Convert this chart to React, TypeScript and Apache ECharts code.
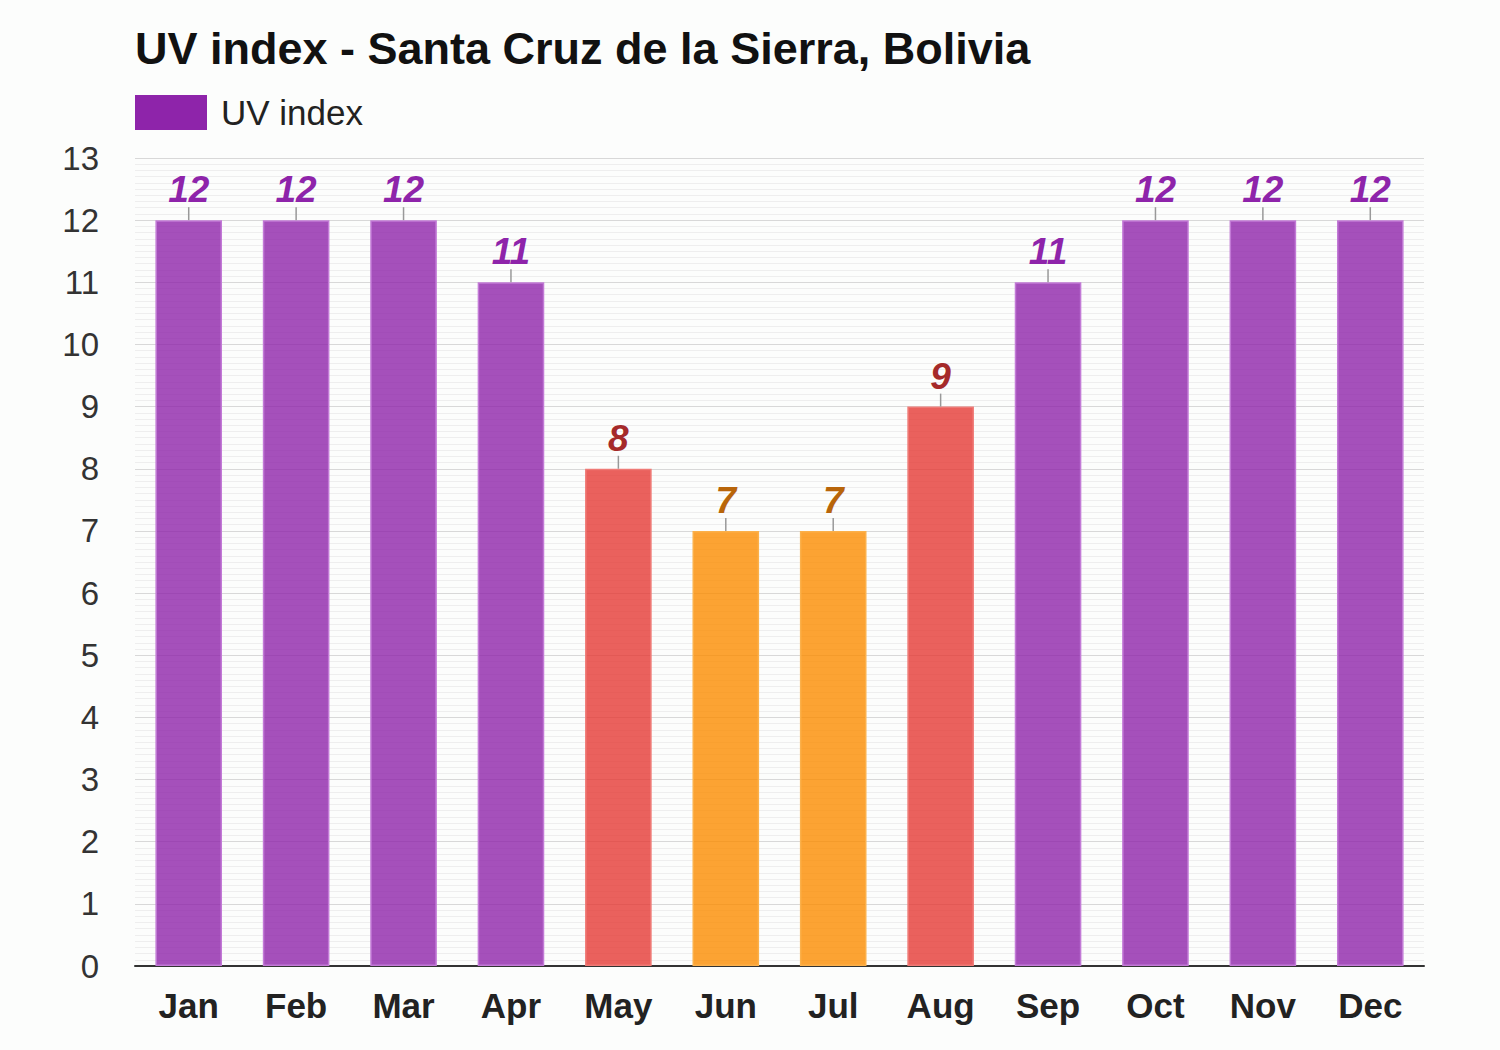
import React, { useEffect, useRef } from "react";
import * as echarts from "echarts";

const months = ["Jan", "Feb", "Mar", "Apr", "May", "Jun", "Jul", "Aug", "Sep", "Oct", "Nov", "Dec"];
const uvIndex = [12, 12, 12, 11, 8, 7, 7, 9, 11, 12, 12, 12];
const yTicks = [0, 1, 2, 3, 4, 5, 6, 7, 8, 9, 10, 11, 12, 13];

const FONT = "'Liberation Sans', Arial, Helvetica, sans-serif";

function barColor(v: number) {
  if (v >= 11) return { fill: "rgba(142,36,170,0.8)", border: "#c27ad6", text: "#8e24aa" };
  if (v >= 8) return { fill: "rgba(229,57,53,0.8)", border: "#ef7a76", text: "#a52a2a" };
  return { fill: "rgba(251,140,0,0.8)", border: "#fbb04a", text: "#b8650a" };
}

export default function App() {
  const ref = useRef<HTMLDivElement>(null);
  useEffect(() => {
    if (!ref.current) return;
    const chart = echarts.init(ref.current, null, { renderer: "svg" });
    chart.setOption({
      animation: false,
      backgroundColor: "#fcfdfc",
      title: {
        text: "UV index - Santa Cruz de la Sierra, Bolivia",
        left: 130,
        top: 21,
        textStyle: { fontFamily: FONT, fontSize: 45, fontWeight: "bold", color: "#111" },
      },
      legend: {
        left: 130,
        top: 90,
        icon: "rect",
        itemWidth: 72,
        itemHeight: 35,
        itemGap: 10,
        data: [{ name: "UV index", itemStyle: { color: "#8e24aa" } }],
        textStyle: { fontFamily: FONT, fontSize: 35, color: "#222", padding: [0, 0, 0, 9] },
        selectedMode: false,
      },
      grid: { left: 135, right: 76, top: 158, bottom: 84, containLabel: false },
      xAxis: {
        type: "category",
        data: months,
        axisLine: { lineStyle: { color: "#333", width: 2 } },
        axisTick: { show: false },
        axisLabel: { fontFamily: FONT, fontSize: 35, fontWeight: "bold", color: "#222", margin: 22 },
        splitLine: { show: false },
      },
      yAxis: {
        type: "value",
        min: yTicks[0],
        max: yTicks[yTicks.length - 1],
        interval: 1,
        axisLine: { show: false },
        axisTick: { show: false },
        axisLabel: { fontFamily: FONT, fontSize: 33, color: "#333", margin: 36 },
        splitLine: { lineStyle: { color: "#d8d8d8", width: 1 } },
        minorTick: { show: false, splitNumber: 10 },
        minorSplitLine: { show: true, lineStyle: { color: "#eeeeee", width: 1 } },
      },
      series: [
        {
          name: "UV index",
          type: "bar",
          barWidth: "62%",
          data: uvIndex.map((v) => {
            const c = barColor(v);
            return { value: v, itemStyle: { color: c.fill, borderColor: c.border, borderWidth: 1.5 } };
          }),
          z: 2,
        },
        {
          name: "labels",
          type: "custom",
          data: uvIndex.map((v, i) => [i, v]),
          z: 3,
          silent: true,
          renderItem: (params: any, api: any) => {
            const i = api.value(0);
            const v = api.value(1);
            const p = api.coord([i, v]);
            const c = barColor(v);
            return {
              type: "group",
              children: [
                {
                  type: "line",
                  shape: { x1: p[0], y1: p[1] - 13, x2: p[0], y2: p[1] },
                  style: { stroke: "#999", lineWidth: 1.5 },
                },
                {
                  type: "text",
                  x: p[0],
                  y: p[1] - 12,
                  style: {
                    text: String(v),
                    textAlign: "center",
                    textVerticalAlign: "bottom",
                    fontFamily: FONT,
                    fontSize: 37,
                    fontWeight: "bold",
                    fontStyle: "italic",
                    fill: c.text,
                  },
                },
              ],
            };
          },
        },
      ],
    });
    return () => chart.dispose();
  }, []);
  return <div ref={ref} style={{ width: 1500, height: 1050, position: "absolute", left: 0, top: 0 }} />;
}
